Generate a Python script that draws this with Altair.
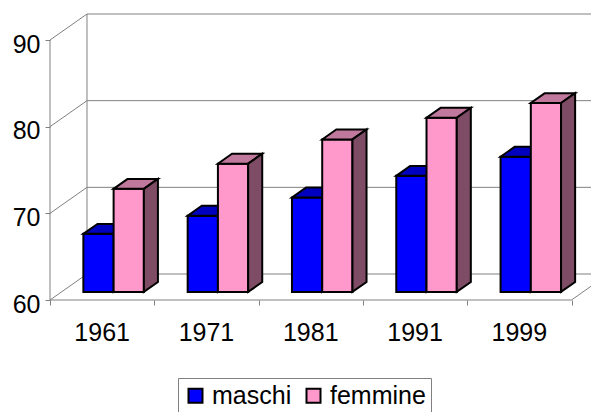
import altair as alt
import pandas as pd

# ---- data ----
years = ["1961", "1971", "1981", "1991", "1999"]
maschi = [66.7, 68.8, 70.9, 73.4, 75.6]
femmine = [71.9, 74.8, 77.6, 80.1, 81.8]
series_names = ["maschi", "femmine"]
y_ticks = [60, 70, 80, 90]

# ---- 3D geometry (in data units) ----
BASE = 60.0
TOP = 93.0
DY = 3.0        # depth of the box in value units
DX = 0.3547     # depth of the box in category units
PX_PER_CAT = 104.3
PLOT_W = 541
X_MAX = PLOT_W / PX_PER_CAT
D1, D2 = 0.31, 0.69
SLOT = {"maschi": (0.21, 0.5), "femmine": (0.5, 0.79)}
FRONT = {"maschi": "#0000FF", "femmine": "#FF99CC"}
TOPC = {"maschi": "#0000BF", "femmine": "#C0789C"}
SIDEC = {"maschi": "#00007F", "femmine": "#7F4C66"}
NCAT = len(years)
FONT = "Liberation Sans"

xs = alt.Scale(domain=[0, X_MAX], nice=False, zero=False)
ys = alt.Scale(domain=[BASE, TOP], nice=False, zero=False)
AX = alt.Axis(values=list(range(NCAT + 1)), labels=False, domain=False, grid=False,
              tickColor="#808080", tickSize=5, title=None)
AY = alt.Axis(values=y_ticks, domain=False, grid=False, tickColor="#808080", tickSize=5,
              labelFontSize=25, labelFont=FONT, labelColor="black", labelPadding=5,
              labelOffset=4, labelFlush=False, title=None)


def X(f):
    return alt.X(f, scale=xs, axis=AX)


def Y(f):
    return alt.Y(f, scale=ys, axis=AY)


# ---- frame lines ----
lines = []
for v in y_ticks:
    lines.append(dict(x=0, y=v, x2=DX, y2=v + DY))                 # left wall
    lines.append(dict(x=DX, y=v + DY, x2=NCAT + DX, y2=v + DY))     # back wall
lines.append(dict(x=DX, y=BASE + DY, x2=DX, y2=TOP))               # back-left edge
lines.append(dict(x=NCAT + DX, y=BASE + DY, x2=NCAT + DX, y2=TOP)) # back-right edge
lines.append(dict(x=0, y=BASE, x2=0, y2=max(y_ticks)))             # front value axis
lines.append(dict(x=0, y=BASE, x2=NCAT, y2=BASE))                  # floor front
lines.append(dict(x=NCAT, y=BASE, x2=NCAT + DX, y2=BASE + DY))     # floor right
lines_df = pd.DataFrame(lines)

frame = alt.Chart(lines_df).mark_rule(color="#808080", strokeWidth=1).encode(
    x=X("x:Q"), y=Y("y:Q"), x2="x2:Q", y2="y2:Q",
)

cat_df = pd.DataFrame({"year": years, "xc": [i + 0.5 for i in range(NCAT)], "yb": [BASE] * NCAT})
labels = alt.Chart(cat_df).mark_text(dy=41, baseline="alphabetic", fontSize=25, font=FONT,
                                     color="black").encode(
    x=X("xc:Q"), y=Y("yb:Q"), text="year:N",
)

color_scale = alt.Scale(domain=series_names, range=[FRONT[s] for s in series_names])
legend = alt.Legend(orient="none", legendX=128, legendY=364, direction="horizontal", title=None,
                    symbolType="square", symbolSize=196, symbolStrokeColor="black",
                    symbolStrokeWidth=2, labelFontSize=25, labelFont=FONT, labelColor="black",
                    labelBaseline="middle", strokeColor="#808080", fillColor="white",
                    padding=5, columnPadding=9, labelOffset=4)


def bar_layers(name, values):
    s0, s1 = SLOT[name]
    fr, tp, sd = [], [], []
    for i, v in enumerate(values):
        bid = f"{name}{i}"
        fr.append(dict(series=name, x0=i + s0 + D1 * DX, x1=i + s1 + D1 * DX,
                       y0=BASE + D1 * DY, y1=v + D1 * DY))
        for d in (D1, D2):
            tp.append(dict(id=bid, y=v + d * DY, xa=i + s0 + d * DX, xb=i + s1 + d * DX))
            sd.append(dict(id=bid, x=i + s1 + d * DX, yt=v + d * DY, yb=BASE + d * DY))
    front = alt.Chart(pd.DataFrame(fr)).mark_rect(stroke="black", strokeWidth=2).encode(
        x=X("x0:Q"), x2="x1:Q", y=Y("y0:Q"), y2="y1:Q",
        color=alt.Color("series:N", scale=color_scale, legend=legend),
    )
    top = alt.Chart(pd.DataFrame(tp)).mark_area(orient="horizontal", fill=TOPC[name],
                                                stroke="black", strokeWidth=2).encode(
        y=Y("y:Q"), x=X("xa:Q"), x2="xb:Q", detail="id:N",
    )
    side = alt.Chart(pd.DataFrame(sd)).mark_area(orient="vertical", fill=SIDEC[name],
                                                 stroke="black", strokeWidth=2).encode(
        x=X("x:Q"), y=Y("yt:Q"), y2="yb:Q", detail="id:N",
    )
    return [side, front, top] if name == "maschi" else [front, top, side]


layers = [frame, labels] + bar_layers("maschi", maschi) + bar_layers("femmine", femmine)

chart = alt.layer(*layers).properties(
    width=PLOT_W, height=286,
    autosize=alt.AutoSizeParams(type="none"),
    padding={"left": 42, "top": 6, "right": 0, "bottom": 112},
).configure_view(strokeWidth=0)

chart.save("out.html", embed_options={"renderer": "svg", "actions": False})
